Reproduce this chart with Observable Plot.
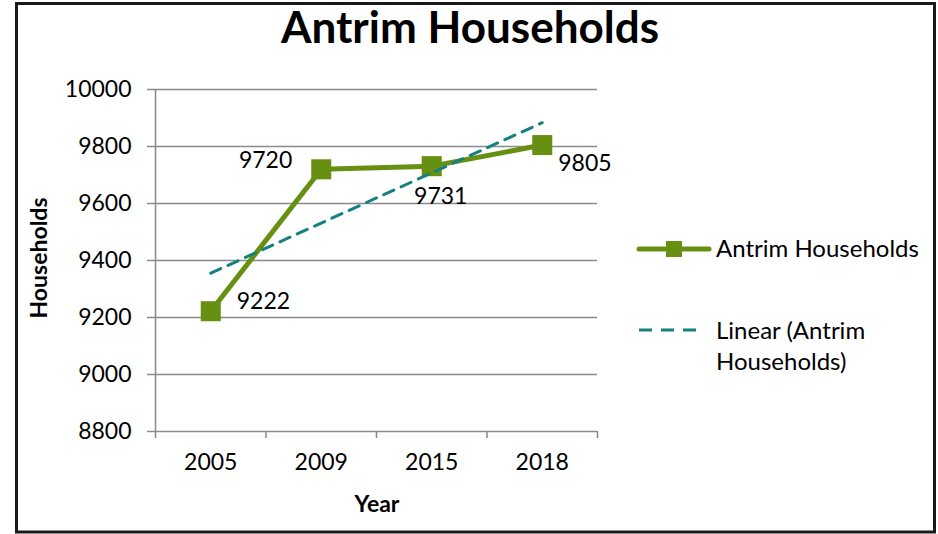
<!DOCTYPE html>
<html>
<head>
<meta charset="utf-8">
<script src="https://cdn.jsdelivr.net/npm/d3@7"></script>
<script src="https://cdn.jsdelivr.net/npm/@observablehq/plot@0.6"></script>
<style>
  html, body { margin: 0; padding: 0; background: #fff; }
  #wrap { position: relative; width: 938px; height: 534px; font-family: Lato, "Open Sans", sans-serif; }
  #wrap > svg { position: absolute; left: 0; top: 0; }
</style>
</head>
<body>
<div id="wrap"></div>
<script>
// ---- data ----
const title = "Antrim Households";
const xTitle = "Year";
const yTitle = "Households";
const years = ["2005", "2009", "2015", "2018"];
const households = [9222, 9720, 9731, 9805];
const yTicks = [8800, 9000, 9200, 9400, 9600, 9800, 10000];
const seriesName = "Antrim Households";
const trendNameLines = ["Linear (Antrim", "Households)"];

// ---- styles ----
const green = "#679013";
const teal = "#16807f";
const grid = "#8a8a8a";
const font = "Lato, 'Open Sans', sans-serif";

const data = years.map((year, k) => ({i: k + 1, year, value: households[k]}));

// per-label placement (Excel data label positions)
const labelPlace = [
  {dx: 26, dy: -10, anchor: "start"},
  {dx: -29, dy: -9, anchor: "end"},
  {dx: 9, dy: 30, anchor: "middle"},
  {dx: 16, dy: 19, anchor: "start"}
];

const boundaries = d3.range(0, years.length + 1).map(k => k + 0.5);

const chart = Plot.plot({
  width: 938,
  height: 534,
  marginLeft: 155,
  marginRight: 341,
  marginTop: 89,
  marginBottom: 103,
  style: {fontFamily: font, fontSize: "23px", background: "transparent", color: "#000"},
  x: {domain: [0.5, years.length + 0.5], axis: null},
  y: {domain: [yTicks[0], yTicks[yTicks.length - 1]], axis: null},
  marks: [
    Plot.ruleY(yTicks, {stroke: grid, strokeWidth: 1.5}),
    Plot.ruleX([0.5], {stroke: grid, strokeWidth: 1.5}),
    Plot.axisY({ticks: yTicks, tickSize: 8, tickPadding: 16, stroke: grid, strokeWidth: 1.5, fill: "#000",
      tickFormat: d => String(d), label: null, fontSize: 23}),
    Plot.axisX({ticks: boundaries, tickSize: 7, stroke: grid, strokeWidth: 1.5, tickFormat: () => "", label: null}),
    Plot.axisX({ticks: data.map(d => d.i), tickSize: 0, tickPadding: 22, fill: "#000",
      tickFormat: i => years[i - 1], label: null, fontSize: 23}),
    Plot.line(data, {x: "i", y: "value", stroke: green, strokeWidth: 5}),
    Plot.dot(data, {x: "i", y: "value", symbol: "square", r: 11.3, fill: green}),
    Plot.linearRegressionY(data, {x: "i", y: "value", stroke: teal, strokeWidth: 3, strokeDasharray: "11,8", ci: 0}),
    ...data.map((d, k) => Plot.text([d], {
      x: "i", y: "value", text: e => String(e.value),
      dx: labelPlace[k].dx, dy: labelPlace[k].dy, textAnchor: labelPlace[k].anchor,
      fill: "#000", fontSize: 23
    }))
  ]
});

const wrap = document.getElementById("wrap");
wrap.appendChild(chart);

// ---- overlay: border, title, axis titles, legend ----
const ov = d3.select(wrap).append("svg")
  .attr("width", 938).attr("height", 534)
  .style("font-family", font);

ov.append("rect").attr("x", 16.5).attr("y", 3.5).attr("width", 918).attr("height", 528.5)
  .attr("fill", "none").attr("stroke", "#1a1a1a").attr("stroke-width", 3);

ov.append("text").attr("x", 470).attr("y", 43).attr("text-anchor", "middle")
  .attr("font-size", 44).attr("font-weight", "bold").text(title);

ov.append("text").attr("x", 377).attr("y", 512).attr("text-anchor", "middle")
  .attr("font-size", 23).attr("font-weight", "bold").text(xTitle);

ov.append("text").attr("transform", "translate(47,258) rotate(-90)").attr("text-anchor", "middle")
  .attr("font-size", 23).attr("font-weight", "bold").text(yTitle);

// legend
const lg = ov.append("g");
lg.append("line").attr("x1", 639).attr("x2", 709).attr("y1", 249).attr("y2", 249)
  .attr("stroke", green).attr("stroke-width", 5).attr("stroke-linecap", "round");
lg.append("rect").attr("x", 666).attr("y", 241).attr("width", 16).attr("height", 16).attr("fill", green);
lg.append("text").attr("x", 716).attr("y", 257).attr("font-size", 24).text(seriesName);
lg.append("line").attr("x1", 639).attr("x2", 697).attr("y1", 330).attr("y2", 330)
  .attr("stroke", teal).attr("stroke-width", 3).attr("stroke-dasharray", "13,9");
trendNameLines.forEach((t, k) => {
  lg.append("text").attr("x", 716).attr("y", 339 + k * 31).attr("font-size", 24).text(t);
});
</script>
</body>
</html>
